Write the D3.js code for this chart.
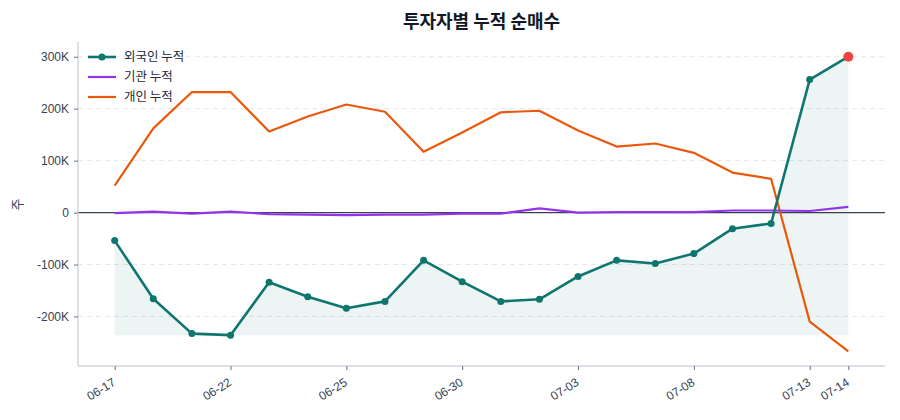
<!DOCTYPE html>
<html>
<head>
<meta charset="utf-8">
<script src="https://cdn.jsdelivr.net/npm/d3@7"></script>
<style>
	body { margin: 0; background: #fff; }
	svg { font-family: "Noto Sans CJK KR", "Noto Sans", sans-serif; }
</style>
</head>
<body>
<div id="chart"></div>
<script>
	// trading days
	var dates = ['06-17', '06-18', '06-19', '06-22', '06-23', '06-24', '06-25', '06-26', '06-29', '06-30',
		'07-01', '07-02', '07-03', '07-06', '07-07', '07-08', '07-09', '07-10', '07-13', '07-14'];
	var shownDates = ['06-17', '06-22', '06-25', '06-30', '07-03', '07-08', '07-13', '07-14'];

	// cumulative net buying (shares)
	var foreignCum = [-54000, -166000, -233000, -236000, -134000, -162000, -184000, -171000, -92000, -133000,
		-171000, -167000, -123000, -92000, -98000, -79000, -31000, -21000, 256000, 300000];
	var instCum = [-1000, 2000, -2000, 2000, -3000, -4000, -5000, -4000, -4000, -2000,
		-2000, 8000, 0, 1000, 1000, 1000, 4000, 4000, 3000, 11000];
	var retailCum = [52000, 162000, 232000, 232000, 156000, 185000, 208000, 194000, 117000, 154000,
		193000, 196000, 158000, 127000, 133000, 115000, 77000, 65000, -210000, -267000];

	var yTicks = [-200000, -100000, 0, 100000, 200000, 300000];

	var series = [
		{name: '외국인 누적', values: foreignCum, color: '#0f766e', width: 2.6, dots: true},
		{name: '기관 누적', values: instCum, color: '#9333ea', width: 2.2, dots: false},
		{name: '개인 누적', values: retailCum, color: '#ea580c', width: 2.2, dots: false}
	];

	var W = 900, H = 420;
	var margin = {top: 42, right: 15, bottom: 54, left: 78};
	var width = W - margin.left - margin.right,
		height = H - margin.top - margin.bottom;

	var svg = d3.select('#chart').append('svg')
		.attr('width', W)
		.attr('height', H);

	var g = svg.append('g')
		.attr('transform', 'translate(' + margin.left + ',' + margin.top + ')');

	// index scale with 5% padding like matplotlib
	var n = dates.length;
	var padX = (n - 1) * 0.05;
	var x = d3.scaleLinear()
		.domain([-padX, n - 1 + padX])
		.range([0, width]);

	var all = foreignCum.concat(instCum, retailCum);
	var yMin = d3.min(all), yMax = d3.max(all);
	var padY = (yMax - yMin) * 0.05;
	var y = d3.scaleLinear()
		.domain([yMin - padY, yMax + padY])
		.range([height, 0]);

	// grid
	g.append('g').selectAll('line')
		.data(yTicks)
		.enter().append('line')
		.attr('x1', 0).attr('x2', width)
		.attr('y1', function (d) { return y(d); })
		.attr('y2', function (d) { return y(d); })
		.attr('stroke', '#e5e7eb')
		.attr('stroke-dasharray', '5,4')
		.attr('stroke-width', 1);

	// area under foreign line down to its minimum
	var fMin = d3.min(foreignCum);
	g.append('path')
		.datum(foreignCum)
		.attr('fill', '#0f766e')
		.attr('fill-opacity', 0.08)
		.attr('d', d3.area()
			.x(function (d, i) { return x(i); })
			.y0(y(fMin))
			.y1(function (d) { return y(d); }));

	// zero line
	g.append('line')
		.attr('x1', 0).attr('x2', width)
		.attr('y1', y(0)).attr('y2', y(0))
		.attr('stroke', '#374151')
		.attr('stroke-width', 1.2);

	var line = d3.line()
		.x(function (d, i) { return x(i); })
		.y(function (d) { return y(d); });

	// draw retail, inst, then foreign on top
	[series[2], series[1], series[0]].forEach(function (s) {
		g.append('path')
			.datum(s.values)
			.attr('fill', 'none')
			.attr('stroke', s.color)
			.attr('stroke-width', s.width)
			.attr('stroke-linejoin', 'round')
			.attr('d', line);
		if (s.dots) {
			g.append('g').selectAll('circle')
				.data(s.values)
				.enter().append('circle')
				.attr('cx', function (d, i) { return x(i); })
				.attr('cy', function (d) { return y(d); })
				.attr('r', 3.5)
				.attr('fill', s.color);
		}
	});

	// last foreign point highlighted
	g.append('circle')
		.attr('cx', x(n - 1))
		.attr('cy', y(foreignCum[n - 1]))
		.attr('r', 5)
		.attr('fill', '#ef4444');

	// axes
	var fmt = function (d) { return d === 0 ? '0' : (d / 1000) + 'K'; };
	var yAxis = g.append('g')
		.call(d3.axisLeft(y).tickValues(yTicks).tickFormat(fmt).tickSize(4).tickPadding(5));
	var xAxis = g.append('g')
		.attr('transform', 'translate(0,' + height + ')')
		.call(d3.axisBottom(x)
			.tickValues(shownDates.map(function (d) { return dates.indexOf(d); }))
			.tickFormat(function (i) { return dates[i]; })
			.tickSize(4));

	[yAxis, xAxis].forEach(function (ax) {
		ax.select('.domain').attr('stroke', '#d1d5db').attr('stroke-width', 1.5);
		ax.selectAll('.tick line').attr('stroke', '#6b7280');
		ax.selectAll('.tick text').attr('fill', '#374151').style('font-size', '12px');
	});
	yAxis.select('.domain').attr('d', 'M0,' + height + 'V0');
	xAxis.select('.domain').attr('d', 'M0,0H' + width);

	xAxis.selectAll('.tick text')
		.style('font-size', '12px')
		.attr('text-anchor', 'end')
		.attr('y', 0)
		.attr('dx', 0)
		.attr('dy', '0.35em')
		.attr('transform', 'translate(-1,15) rotate(-32)');

	// y label
	svg.append('text')
		.attr('transform', 'translate(22,' + (margin.top + y(0) - 8) + ') rotate(-90)')
		.attr('text-anchor', 'middle')
		.attr('fill', '#374151')
		.style('font-size', '13px')
		.text('주');

	// title
	svg.append('text')
		.attr('x', margin.left + width / 2)
		.attr('y', 28)
		.attr('text-anchor', 'middle')
		.attr('fill', '#111827')
		.style('font-size', '18px')
		.style('font-weight', 'bold')
		.text('투자자별 누적 순매수');

	// legend
	var legend = g.append('g').attr('transform', 'translate(10,15)');
	series.forEach(function (s, i) {
		var row = legend.append('g').attr('transform', 'translate(0,' + (i * 20) + ')');
		row.append('line')
			.attr('x1', 0).attr('x2', 28)
			.attr('stroke', s.color)
			.attr('stroke-width', s.width);
		if (s.dots) {
			row.append('circle').attr('cx', 14).attr('r', 3.5).attr('fill', s.color);
		}
		row.append('text')
			.attr('x', 36)
			.attr('dy', '0.35em')
			.attr('fill', '#1f2937')
			.style('font-size', '12.5px')
			.text(s.name);
	});
</script>
</body>
</html>
